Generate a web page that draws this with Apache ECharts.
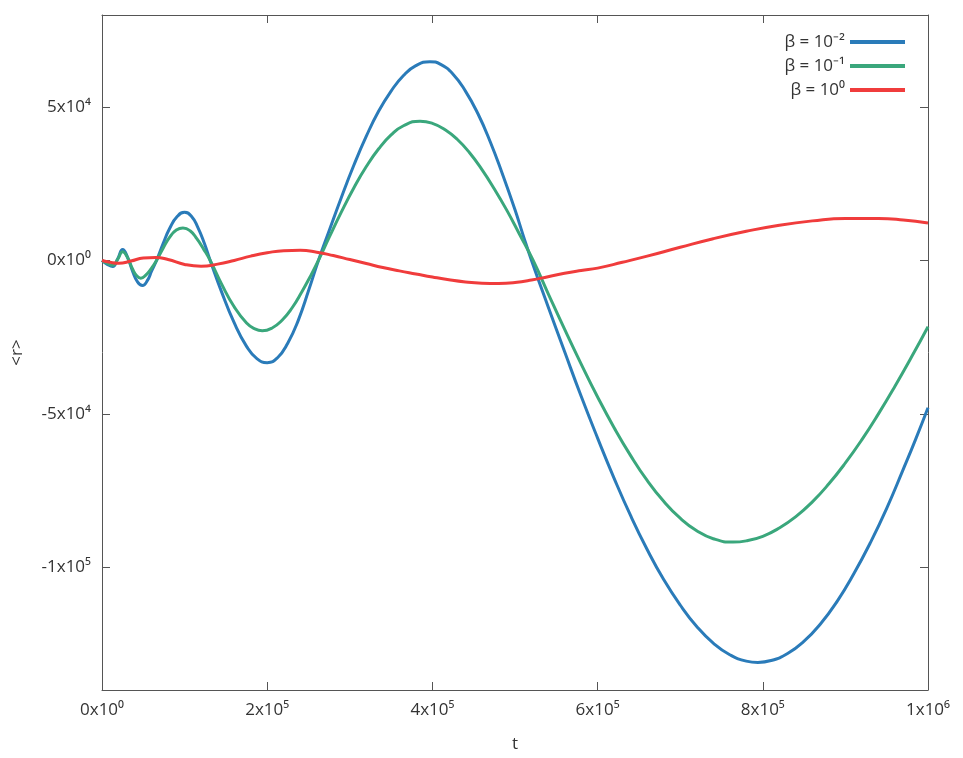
<!DOCTYPE html>
<html>
<head>
<meta charset="utf-8">
<script src="https://cdn.jsdelivr.net/npm/echarts@6/dist/echarts.min.js"></script>
<style>
html, body { margin: 0; padding: 0; background: #fff; }
#main { width: 963px; height: 758px; }
</style>
</head>
<body>
<div id="main"></div>
<script>
// beta = 1e-2
var tBlue = [0, 6e3, 1.3e4, 1.9e4, 2.5e4, 3.1e4, 3.7e4, 4.3e4, 4.9e4, 5.5e4, 6.0e4, 6.6e4, 7.4e4, 8.2e4, 9.1e4, 1.0e5, 1.08e5, 1.16e5, 1.24e5, 1.31e5,
    1.45e5, 1.6e5, 1.75e5, 1.875e5, 2.0e5, 2.125e5, 2.25e5, 2.375e5, 2.5e5, 2.62e5,
    2.75e5, 2.9e5, 3.05e5, 3.2e5, 3.35e5, 3.5e5, 3.65e5, 3.8e5, 3.97e5,
    4.1e5, 4.25e5, 4.4e5, 4.55e5, 4.7e5, 4.85e5, 5.0e5, 5.1e5, 5.2e5,
    5.4e5, 5.6e5, 5.8e5, 6.0e5, 6.2e5, 6.4e5, 6.6e5, 6.8e5, 7.0e5, 7.2e5, 7.4e5, 7.6e5, 7.8e5, 7.94e5,
    8.1e5, 8.3e5, 8.5e5, 8.7e5, 8.9e5, 9.1e5, 9.3e5, 9.5e5, 9.7e5, 9.85e5, 1.0e6];
var rBlue = [0, -1200, -2000, 500, 3600, 1000, -3500, -7000, -8200, -6500, -3500, 0, 5500, 10500, 14300, 15700, 14500, 10800, 5500, 0,
    -10400, -20300, -28000, -32000, -33300, -31700, -26900, -19600, -9900, 0,
    9700, 20700, 31100, 40500, 48700, 55200, 60300, 63500, 64800,
    63900, 60700, 55200, 47900, 38700, 28000, 16500, 8100, 0,
    -15000, -29700, -44200, -57900, -71000, -83200, -94200, -104000, -112300, -119300, -124700, -128500, -130600, -131000,
    -130400, -128100, -124100, -118400, -111100, -102200, -92100, -80800, -68100, -58300, -48000];
// beta = 1e-1
var tGreen = [0, 6e3, 1.3e4, 1.9e4, 2.5e4, 3.1e4, 3.7e4, 4.2e4, 4.7e4, 5.3e4, 6.0e4, 6.6e4, 7.4e4, 8.2e4, 9.0e4, 9.8e4, 1.07e5, 1.15e5, 1.23e5, 1.31e5,
    1.45e5, 1.6e5, 1.75e5, 1.85e5, 1.94e5, 2.06e5, 2.18e5, 2.3e5, 2.42e5, 2.52e5, 2.62e5,
    2.75e5, 2.9e5, 3.05e5, 3.2e5, 3.35e5, 3.5e5, 3.65e5, 3.85e5,
    4.0e5, 4.15e5, 4.3e5, 4.45e5, 4.6e5, 4.75e5, 4.9e5, 5.05e5, 5.22e5,
    5.4e5, 5.6e5, 5.8e5, 6.0e5, 6.2e5, 6.4e5, 6.6e5, 6.8e5, 7.0e5, 7.2e5, 7.4e5, 7.64e5,
    7.8e5, 8.0e5, 8.2e5, 8.4e5, 8.6e5, 8.8e5, 9.0e5, 9.2e5, 9.4e5, 9.6e5, 9.8e5, 1.0e6];
var rGreen = [0, -900, -1600, 400, 2800, 900, -2800, -5000, -5800, -4800, -2500, 0, 4000, 7600, 9900, 10600, 9600, 7000, 3700, 0,
    -7800, -15100, -20400, -22300, -22900, -22000, -19500, -15500, -10200, -5300, 0,
    7500, 15900, 23700, 30600, 36400, 40900, 43900, 45400,
    44700, 42700, 39500, 35100, 29600, 23300, 16400, 8800, 0,
    -10700, -22400, -33700, -44500, -54500, -63600, -71700, -78500, -84000, -88100, -90700, -91800,
    -91400, -89900, -87200, -83500, -78700, -72800, -66000, -58400, -50000, -41000, -31500, -21600];
// beta = 1e0
var tRed = [0, 1e4, 2e4, 3.5e4, 5e4, 6.5e4, 8e4, 1e5, 1.2e5, 1.4e5, 1.6e5, 1.8e5, 2.0e5, 2.2e5, 2.4e5, 2.6e5, 2.8e5, 3.0e5, 3.2e5, 3.4e5, 3.6e5, 3.8e5,
    4.0e5, 4.2e5, 4.4e5, 4.6e5, 4.8e5, 5.0e5, 5.2e5, 5.4e5, 5.6e5, 5.8e5, 6.0e5, 6.3e5, 6.6e5, 7.0e5, 7.4e5, 7.8e5, 8.2e5, 8.6e5, 9.0e5, 9.4e5, 9.7e5, 1.0e6];
var rRed = [0, -600, -900, -200, 800, 1000, 300, -1300, -1900, -1200, 0, 1400, 2500, 3200, 3300, 2700, 1600, 300, -1000, -2300, -3400, -4400,
    -5400, -6300, -7000, -7400, -7500, -7200, -6400, -5300, -4200, -3300, -2500, -600, 1400, 4300, 7100, 9500, 11500, 12900, 13700, 13700, 13200, 12200];

var xTicks = [0, 2e5, 4e5, 6e5, 8e5, 1e6];
var xTickLabels = ['0x10⁰', '2x10⁵', '4x10⁵', '6x10⁵', '8x10⁵', '1x10⁶'];
var yTicks = [-1e5, -5e4, 0, 5e4];
var yTickLabels = ['-1x10⁵', '-5x10⁴', '0x10⁰', '5x10⁴'];
var seriesNames = ['β = 10⁻²', 'β = 10⁻¹', 'β = 10⁰'];
var colors = ['#2a7bb9', '#3aa77c', '#f03c3c'];

function pairs(t, v) {
    var out = [];
    for (var i = 0; i < t.length; i++) out.push([t[i], v[i]]);
    return out;
}

var font = { fontFamily: 'Open Sans', fontSize: 17, color: '#333' };
var axisLine = { show: true, onZero: false, lineStyle: { color: '#555', width: 1 } };
var tick = function (vals) {
    return { inside: true, length: 8, customValues: vals, lineStyle: { color: '#555' } };
};

var myChart = echarts.init(document.getElementById('main'));
var option = {
    backgroundColor: '#fff',
    animation: false,
    color: colors,
    grid: { left: 102, right: 35, top: 15, bottom: 68 },
    legend: {
        orient: 'vertical',
        right: 53,
        top: 27,
        align: 'right',
        itemWidth: 55,
        itemHeight: 4,
        itemGap: 4,
        icon: 'rect',
        textStyle: { fontFamily: 'Open Sans', fontSize: 17, color: '#333', width: 76, align: 'right', lineHeight: 20 },
        data: seriesNames
    },
    xAxis: [{
        type: 'value',
        min: 0, max: 1e6,
        name: 't',
        nameLocation: 'middle',
        nameGap: 46,
        nameTextStyle: font,
        axisLine: axisLine,
        splitLine: { show: false },
        axisTick: tick(xTicks),
        axisLabel: Object.assign({ margin: 12, customValues: xTicks, formatter: function (v) {
            return xTickLabels[xTicks.indexOf(v)];
        } }, font)
    }, {
        type: 'value',
        position: 'top',
        min: 0, max: 1e6,
        axisLine: axisLine,
        splitLine: { show: false },
        axisTick: tick(xTicks),
        axisLabel: { show: false }
    }],
    yAxis: [{
        type: 'value',
        min: -1.4e5, max: 8e4,
        name: '<r>',
        nameLocation: 'middle',
        nameGap: 76,
        nameRotate: 90,
        nameTextStyle: font,
        axisLine: axisLine,
        splitLine: { show: false },
        axisTick: tick(yTicks),
        axisLabel: Object.assign({ margin: 11, customValues: yTicks, formatter: function (v) {
            return yTickLabels[yTicks.indexOf(v)];
        } }, font)
    }, {
        type: 'value',
        position: 'right',
        min: -1.4e5, max: 8e4,
        axisLine: axisLine,
        splitLine: { show: false },
        axisTick: tick(yTicks),
        axisLabel: { show: false }
    }],
    series: [
        { name: seriesNames[0], type: 'line', smooth: true, showSymbol: false, symbol: 'none', lineStyle: { width: 3 }, data: pairs(tBlue, rBlue) },
        { name: seriesNames[1], type: 'line', smooth: true, showSymbol: false, symbol: 'none', lineStyle: { width: 3 }, data: pairs(tGreen, rGreen) },
        { name: seriesNames[2], type: 'line', smooth: true, showSymbol: false, symbol: 'none', lineStyle: { width: 3 }, data: pairs(tRed, rRed) }
    ]
};
myChart.setOption(option);
</script>
</body>
</html>
